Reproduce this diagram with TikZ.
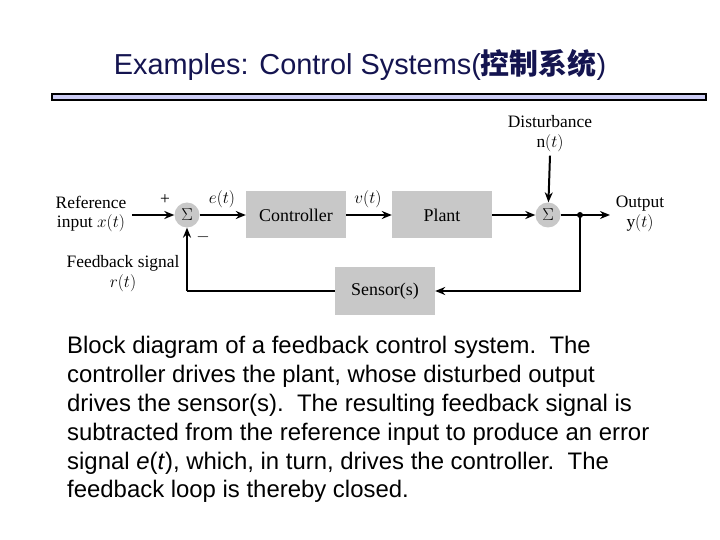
\documentclass[tikz,border=0pt]{standalone}
\usepackage{fontspec}
\setmainfont{Liberation Sans}
\newfontfamily\serifdiag{Liberation Serif}
\newfontfamily\cjk{Noto Sans CJK SC}
\usetikzlibrary{positioning,arrows.meta}
\definecolor{blockgray}{RGB}{200,200,200}
\definecolor{barfill}{RGB}{205,205,245}
\definecolor{titlenavy}{RGB}{20,20,80}
\tikzset{
    block/.style={
        shape=rectangle, fill=blockgray, minimum width=100bp, minimum height=47bp,
        font=\serifdiag\fontsize{18}{20}\selectfont
    },
    summer/.style={
        circle, fill=blockgray, minimum size=25bp, inner sep=0pt,
        font=\serifdiag\fontsize{16}{18}\selectfont
    },
    label text/.style={
        align=center, font=\serifdiag\fontsize{17.5}{20}\selectfont
    },
    signal/.style={
        line width=2pt, -{Stealth[length=10bp,width=8bp]}
    },
    wire/.style={
        line width=2pt
    },
}
\begin{document}
\begin{tikzpicture}[x=1bp,y=-1bp]
    \useasboundingbox (0,0) rectangle (720,540);
    % title and bar
    \node[text=titlenavy] (title) at (360,65) {\fontsize{29}{32}\selectfont Examples: Control Systems({\cjk\bfseries 控制系统})};
    \draw[line width=1.5pt, fill=barfill] (52,94) rectangle (706,100);
    % blocks
    \node[summer] (sum1) at (187,215) {$\Sigma$};
    \node[block] (ctrl) at (296,215) {Controller};
    \node[block] (plant) at (442,215) {Plant};
    \node[summer] (sum2) at (548,215) {$\Sigma$};
    \node[block] (sens) at (385,291) {Sensor(s)};
    \coordinate (tap) at (580,215);
    \coordinate (out) at (610,215);
    \coordinate (corner) at (187,291);
    % labels
    \node[label text] (ref) at (91,214) {Reference\\input $x(t)$};
    \node[label text] (outlbl) at (640,214) {Output\\y$(t)$};
    \node[label text] (dist) at (550,134) {Disturbance\\n$(t)$};
    \node[label text] (fb) at (123,274) {Feedback signal\\$r(t)$};
    \node[label text] (plus) at (165,200) {+};
    \node[label text] (minus) at (203,237) {$-$};
    \node[label text] (e) at (222,199) {$e(t)$};
    \node[label text] (v) at (368,199) {$v(t)$};
    % signals
    \draw[signal] (ref.east |- sum1) ++(2,0) -- (sum1);
    \draw[signal] (sum1) -- (ctrl);
    \draw[signal] (ctrl) -- (plant);
    \draw[signal] (plant) -- (sum2);
    \draw[signal] (sum2) -- (out);
    \draw[signal] (dist.south) -- (sum2);
    \fill (tap) circle (3bp);
    \draw[signal] (tap) |- (sens);
    \draw[wire] (sens) -- (corner);
    \draw[signal] (corner) -- (sum1);
    % caption
    \node[anchor=north west, align=left, font=\fontsize{24}{29}\selectfont, inner sep=0pt] (caption) at (67,336)
        {Block diagram of a feedback control system.\ \ The\\
         controller drives the plant, whose disturbed output\\
         drives the sensor(s).\ \ The resulting feedback signal is\\
         subtracted from the reference input to produce an error\\
         signal \textit{e}(\textit{t}), which, in turn, drives the controller.\ \ The\\
         feedback loop is thereby closed.};
\end{tikzpicture}
\end{document}
